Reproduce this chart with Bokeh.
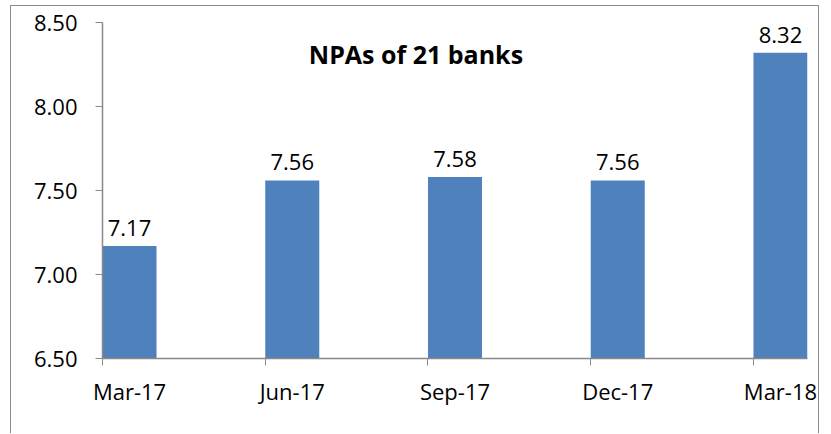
from bokeh.plotting import figure
from bokeh.models import FixedTicker, Range1d, Label, ColumnDataSource, InlineStyleSheet
from bokeh.core.properties import value
from bokeh.embed import file_html
from bokeh.resources import INLINE

categories = ["Mar-17", "Jun-17", "Sep-17", "Dec-17", "Mar-18"]
npa_values = [7.17, 7.56, 7.58, 7.56, 8.32]
label_texts = ["7.17", "7.56", "7.58", "7.56", "8.32"]
y_ticks = [6.5, 7.0, 7.5, 8.0, 8.5]
y_tick_labels = ["6.50", "7.00", "7.50", "8.00", "8.50"]
title_text = "NPAs of 21  banks"

FONT = "Open Sans"
AXIS_COLOR = "#898989"
BAR_COLOR = "#4F81BD"
bar_w = 0.332
xs = list(range(len(categories)))

p = figure(width=809, height=428, output_backend="svg", toolbar_location=None,
           x_range=Range1d(-bar_w / 2, len(categories) - 1 + bar_w / 2),
           y_range=Range1d(6.5, 8.5),
           min_border_left=91, min_border_right=13, min_border_top=16, min_border_bottom=76)
p.stylesheets = [InlineStyleSheet(css=(
    f":host {{ border-left: 1px solid {AXIS_COLOR}; border-top: 1px solid {AXIS_COLOR}; "
    f"border-right: 1px solid {AXIS_COLOR}; margin-left: 10px; margin-top: 5px; }}"))]
p.outline_line_color = None
p.xgrid.visible = False
p.ygrid.visible = False
p.background_fill_color = "white"
p.border_fill_color = "white"

src = ColumnDataSource(dict(x=xs, top=npa_values, lab=label_texts))
p.vbar(x="x", top="top", bottom=6.5, width=bar_w, source=src, fill_color=BAR_COLOR, line_color=None)
p.text(x="x", y="top", text="lab", source=src, text_align="center", text_baseline="alphabetic",
       y_offset=-18, text_font=value(FONT), text_font_size="22px", text_color="black")

p.add_layout(Label(x=1.78, y=8.31, text=title_text, text_align="center", text_baseline="alphabetic",
                   text_font=FONT, text_font_size="25px", text_font_style="bold", text_color="black"))

# x axis
xa = p.xaxis[0]
xa.ticker = FixedTicker(ticks=xs, minor_ticks=[x - bar_w / 2 for x in xs])
xa.major_label_overrides = {i: c for i, c in enumerate(categories)}
xa.major_tick_out = 0
xa.major_tick_in = 0
xa.minor_tick_out = 7
xa.minor_tick_in = 0
xa.minor_tick_line_color = AXIS_COLOR
xa.axis_line_color = AXIS_COLOR
xa.axis_line_width = 1.5
xa.major_label_standoff = 10
xa.major_label_text_font = FONT
xa.major_label_text_font_size = "22px"
xa.major_label_text_color = "black"

# y axis
ya = p.yaxis[0]
ya.ticker = FixedTicker(ticks=y_ticks, minor_ticks=[])
ya.major_label_overrides = {t: l for t, l in zip(y_ticks, y_tick_labels)}
ya.major_tick_out = 7
ya.major_tick_in = 0
ya.major_tick_line_color = AXIS_COLOR
ya.axis_line_color = AXIS_COLOR
ya.axis_line_width = 1.5
ya.major_label_standoff = 18
ya.major_label_text_font = FONT
ya.major_label_text_font_size = "22px"
ya.major_label_text_color = "black"

open("out.html", "w").write(file_html(p, INLINE))
